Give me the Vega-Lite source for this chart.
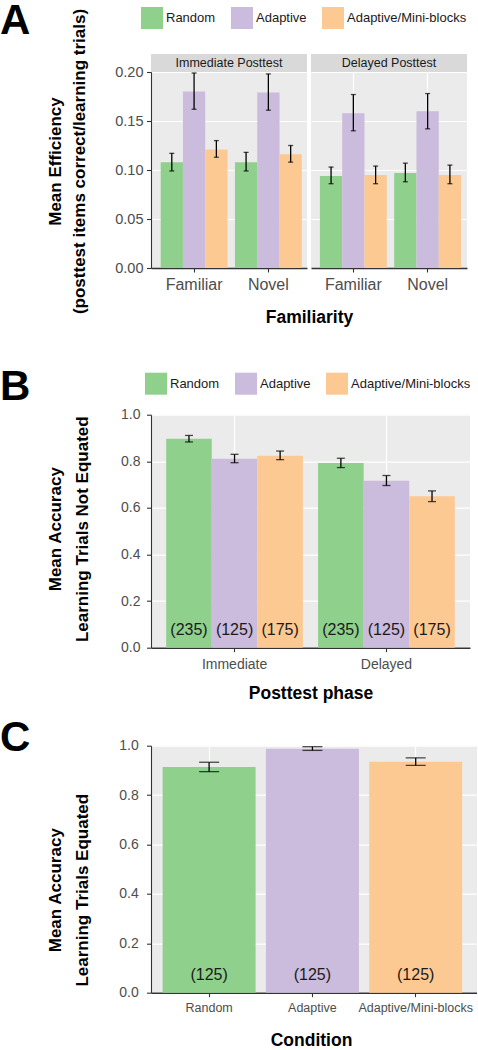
{
  "$schema": "https://vega.github.io/schema/vega-lite/v6.json",
  "padding": 0,
  "background": "white",
  "datasets": {
    "A_imm": [
      {"familiarity": "Familiar", "condition": "Random", "mean": 0.108, "lo": 0.099, "hi": 0.117},
      {"familiarity": "Familiar", "condition": "Adaptive", "mean": 0.180, "lo": 0.162, "hi": 0.199},
      {"familiarity": "Familiar", "condition": "Adaptive/Mini-blocks", "mean": 0.121, "lo": 0.113, "hi": 0.130},
      {"familiarity": "Novel", "condition": "Random", "mean": 0.108, "lo": 0.099, "hi": 0.118},
      {"familiarity": "Novel", "condition": "Adaptive", "mean": 0.179, "lo": 0.161, "hi": 0.198},
      {"familiarity": "Novel", "condition": "Adaptive/Mini-blocks", "mean": 0.116, "lo": 0.108, "hi": 0.125}
    ],
    "A_del": [
      {"familiarity": "Familiar", "condition": "Random", "mean": 0.094, "lo": 0.086, "hi": 0.103},
      {"familiarity": "Familiar", "condition": "Adaptive", "mean": 0.158, "lo": 0.140, "hi": 0.177},
      {"familiarity": "Familiar", "condition": "Adaptive/Mini-blocks", "mean": 0.095, "lo": 0.086, "hi": 0.104},
      {"familiarity": "Novel", "condition": "Random", "mean": 0.097, "lo": 0.088, "hi": 0.107},
      {"familiarity": "Novel", "condition": "Adaptive", "mean": 0.160, "lo": 0.142, "hi": 0.178},
      {"familiarity": "Novel", "condition": "Adaptive/Mini-blocks", "mean": 0.095, "lo": 0.086, "hi": 0.105}
    ],
    "B": [
      {"phase": "Immediate", "condition": "Random", "mean": 0.897, "lo": 0.883, "hi": 0.911, "n": "(235)"},
      {"phase": "Immediate", "condition": "Adaptive", "mean": 0.811, "lo": 0.794, "hi": 0.830, "n": "(125)"},
      {"phase": "Immediate", "condition": "Adaptive/Mini-blocks", "mean": 0.824, "lo": 0.807, "hi": 0.844, "n": "(175)"},
      {"phase": "Delayed", "condition": "Random", "mean": 0.793, "lo": 0.773, "hi": 0.813, "n": "(235)"},
      {"phase": "Delayed", "condition": "Adaptive", "mean": 0.717, "lo": 0.696, "hi": 0.739, "n": "(125)"},
      {"phase": "Delayed", "condition": "Adaptive/Mini-blocks", "mean": 0.650, "lo": 0.627, "hi": 0.673, "n": "(175)"}
    ],
    "C": [
      {"condition": "Random", "mean": 0.914, "lo": 0.895, "hi": 0.933, "n": "(125)"},
      {"condition": "Adaptive", "mean": 0.988, "lo": 0.981, "hi": 0.996, "n": "(125)"},
      {"condition": "Adaptive/Mini-blocks", "mean": 0.935, "lo": 0.920, "hi": 0.951, "n": "(125)"}
    ]
  },
  "config": {
    "font": "Liberation Sans",
    "view": {"fill": "#EBEBEB", "stroke": null},
    "axis": {
      "labelColor": "#4D4D4D",
      "titleColor": "#000000",
      "domainColor": "#333333",
      "tickColor": "#333333",
      "gridColor": "#FFFFFF",
      "labelFont": "Liberation Sans",
      "titleFont": "Liberation Sans"
    },
    "legend": {"labelFont": "Liberation Sans"},
    "title": {"font": "Liberation Sans"}
  },
  "resolve": {"scale": {"color": "independent", "xOffset": "independent", "x": "independent", "y": "independent"}},
  "columns": 1,
  "spacing": {"row": 14.7, "column": 0},
  "concat": [
    {
      "resolve": {"scale": {"color": "independent", "xOffset": "independent", "x": "independent", "y": "independent"}},
      "columns": 1,
      "spacing": {"row": 38.7, "column": 0},
      "concat": [
        {
          "title": {"text": "A", "anchor": "start", "frame": "group", "fontSize": 42, "fontWeight": "bold", "color": "#000000", "offset": 0, "dx": -151, "dy": 37, "baseline": "top"},
          "bounds": "flush",
          "spacing": 4,
          "resolve": {"scale": {"xOffset": "independent"}},
          "hconcat": [
            {
              "width": 156,
              "height": 196,
              "layer": [
                {
                  "data": {"name": "A_imm"},
                  "mark": {"type": "bar"},
                  "encoding": {
                    "x": {"field": "familiarity", "type": "nominal", "sort": ["Familiar", "Novel"], "scale": {"paddingInner": 0.1, "paddingOuter": 0.1, "align": 0.65},
                      "axis": {"title": "Familiarity", "titleFontSize": 17.5, "titleFontWeight": "bold", "titleX": 158, "titleY": 40.7, "titleBaseline": "top", "titleAlign": "center", "labelFontSize": 16, "labelPadding": 4.5, "labelAngle": 0, "tickSize": 4, "tickWidth": 1.1, "domainWidth": 1.6, "grid": true, "gridWidth": 1.2}},
                    "xOffset": {"field": "condition", "type": "nominal", "sort": ["Random", "Adaptive", "Adaptive/Mini-blocks"], "scale": {"paddingInner": 0, "paddingOuter": 0}},
                    "y": {"field": "mean", "type": "quantitative", "scale": {"domain": [0, 0.2], "nice": false},
                      "axis": {
                        "values": [0, 0.025, 0.05, 0.075, 0.1, 0.125, 0.15, 0.175, 0.2],
                        "labelExpr": "abs(datum.value*20 - round(datum.value*20)) < 0.01 ? format(datum.value, '.2f') : ''",
                        "labelFontSize": 14.5, "labelPadding": 3.5, "tickSize": 4.5, "tickWidth": 1.1,
                        "tickColor": {"condition": {"test": "abs(datum.value*20 - round(datum.value*20)) > 0.01", "value": "rgba(0,0,0,0)"}, "value": "#333333"},
                        "gridWidth": {"condition": {"test": "abs(datum.value*20 - round(datum.value*20)) > 0.01", "value": 0.6}, "value": 1.2},
                        "domainWidth": 1.1,
                        "title": ["Mean Efficiency", "(posttest  items correct/learning trials)"],
                        "titleFontSize": 17, "titleFontWeight": "bold", "titleX": -96, "titleY": 89, "titleBaseline": "middle", "titleAlign": "center", "titleLineHeight": 24
                      }},
                    "color": {"field": "condition", "type": "nominal", "scale": {"domain": ["Random", "Adaptive", "Adaptive/Mini-blocks"], "range": ["#8FD08D", "#CBBBDC", "#FDC993"]},
                      "legend": {"title": null, "orient": "none", "legendX": -10, "legendY": -65, "direction": "horizontal", "symbolType": "square", "symbolSize": 484, "symbolStrokeWidth": 0, "labelFontSize": 13, "labelColor": "#1A1A1A", "labelOffset": 3, "columnPadding": 15}}
                  }
                },
                {
                  "data": {"name": "A_imm"},
                  "mark": {"type": "rule", "color": "#000000", "strokeWidth": 1.3},
                  "encoding": {
                    "x": {"field": "familiarity", "type": "nominal", "sort": ["Familiar", "Novel"]},
                    "xOffset": {"field": "condition", "type": "nominal", "sort": ["Random", "Adaptive", "Adaptive/Mini-blocks"]},
                    "y": {"field": "lo", "type": "quantitative"},
                    "y2": {"field": "hi"}
                  }
                },
                {
                  "data": {"name": "A_imm"},
                  "mark": {"type": "tick", "color": "#000000", "size": 5, "thickness": 1.3},
                  "encoding": {
                    "x": {"field": "familiarity", "type": "nominal", "sort": ["Familiar", "Novel"]},
                    "xOffset": {"field": "condition", "type": "nominal", "sort": ["Random", "Adaptive", "Adaptive/Mini-blocks"]},
                    "y": {"field": "lo", "type": "quantitative"}
                  }
                },
                {
                  "data": {"name": "A_imm"},
                  "mark": {"type": "tick", "color": "#000000", "size": 5, "thickness": 1.3},
                  "encoding": {
                    "x": {"field": "familiarity", "type": "nominal", "sort": ["Familiar", "Novel"]},
                    "xOffset": {"field": "condition", "type": "nominal", "sort": ["Random", "Adaptive", "Adaptive/Mini-blocks"]},
                    "y": {"field": "hi", "type": "quantitative"}
                  }
                },
                {
                  "data": {"values": [{"strip": "Immediate Posttest"}]},
                  "mark": {"type": "rect", "color": "#D9D9D9"},
                  "encoding": {
                    "y": {"datum": 0.2, "type": "quantitative"},
                    "y2": {"datum": 0.2184}
                  }
                },
                {
                  "data": {"values": [{"strip": "Immediate Posttest"}]},
                  "mark": {"type": "text", "color": "#1A1A1A", "fontSize": 12.5, "baseline": "middle"},
                  "encoding": {
                    "y": {"datum": 0.2092, "type": "quantitative"},
                    "text": {"field": "strip"}
                  }
                }
              ]
            },
            {
              "width": 156,
              "height": 196,
              "layer": [
                {
                  "data": {"name": "A_del"},
                  "mark": {"type": "bar"},
                  "encoding": {
                    "x": {"field": "familiarity", "type": "nominal", "sort": ["Familiar", "Novel"], "scale": {"paddingInner": 0.1, "paddingOuter": 0.1, "align": 0.6},
                      "axis": {"title": null, "labelFontSize": 16, "labelPadding": 4.5, "labelAngle": 0, "tickSize": 4, "tickWidth": 1.1, "domainWidth": 1.6, "grid": true, "gridWidth": 1.2}},
                    "xOffset": {"field": "condition", "type": "nominal", "sort": ["Random", "Adaptive", "Adaptive/Mini-blocks"], "scale": {"paddingInner": 0, "paddingOuter": 0}},
                    "y": {"field": "mean", "type": "quantitative", "scale": {"domain": [0, 0.2], "nice": false},
                      "axis": {
                        "values": [0, 0.025, 0.05, 0.075, 0.1, 0.125, 0.15, 0.175, 0.2],
                        "labels": false, "ticks": false, "domain": false, "title": null,
                        "gridWidth": {"condition": {"test": "abs(datum.value*20 - round(datum.value*20)) > 0.01", "value": 0.6}, "value": 1.2}
                      }},
                    "color": {"field": "condition", "type": "nominal", "scale": {"domain": ["Random", "Adaptive", "Adaptive/Mini-blocks"], "range": ["#8FD08D", "#CBBBDC", "#FDC993"]},
                      "legend": {"title": null, "orient": "none", "legendX": -10, "legendY": -65, "direction": "horizontal", "symbolType": "square", "symbolSize": 484, "symbolStrokeWidth": 0, "labelFontSize": 13, "labelColor": "#1A1A1A", "labelOffset": 3, "columnPadding": 15}}
                  }
                },
                {
                  "data": {"name": "A_del"},
                  "mark": {"type": "rule", "color": "#000000", "strokeWidth": 1.3},
                  "encoding": {
                    "x": {"field": "familiarity", "type": "nominal", "sort": ["Familiar", "Novel"]},
                    "xOffset": {"field": "condition", "type": "nominal", "sort": ["Random", "Adaptive", "Adaptive/Mini-blocks"]},
                    "y": {"field": "lo", "type": "quantitative"},
                    "y2": {"field": "hi"}
                  }
                },
                {
                  "data": {"name": "A_del"},
                  "mark": {"type": "tick", "color": "#000000", "size": 5, "thickness": 1.3},
                  "encoding": {
                    "x": {"field": "familiarity", "type": "nominal", "sort": ["Familiar", "Novel"]},
                    "xOffset": {"field": "condition", "type": "nominal", "sort": ["Random", "Adaptive", "Adaptive/Mini-blocks"]},
                    "y": {"field": "lo", "type": "quantitative"}
                  }
                },
                {
                  "data": {"name": "A_del"},
                  "mark": {"type": "tick", "color": "#000000", "size": 5, "thickness": 1.3},
                  "encoding": {
                    "x": {"field": "familiarity", "type": "nominal", "sort": ["Familiar", "Novel"]},
                    "xOffset": {"field": "condition", "type": "nominal", "sort": ["Random", "Adaptive", "Adaptive/Mini-blocks"]},
                    "y": {"field": "hi", "type": "quantitative"}
                  }
                },
                {
                  "data": {"values": [{"strip": "Delayed Posttest"}]},
                  "mark": {"type": "rect", "color": "#D9D9D9"},
                  "encoding": {
                    "y": {"datum": 0.2, "type": "quantitative"},
                    "y2": {"datum": 0.2184}
                  }
                },
                {
                  "data": {"values": [{"strip": "Delayed Posttest"}]},
                  "mark": {"type": "text", "color": "#1A1A1A", "fontSize": 12.5, "baseline": "middle"},
                  "encoding": {
                    "y": {"datum": 0.2092, "type": "quantitative"},
                    "text": {"field": "strip"}
                  }
                }
              ]
            }
          ]
        },
        {
          "title": {"text": "B", "anchor": "start", "frame": "group", "fontSize": 42, "fontWeight": "bold", "color": "#000000", "offset": 0, "dx": -151, "dy": 69, "baseline": "alphabetic"},
          "width": 319,
          "height": 233,
          "data": {"name": "B"},
          "encoding": {
            "x": {"field": "phase", "type": "nominal", "sort": ["Immediate", "Delayed"], "scale": {"paddingInner": 0.1, "paddingOuter": 0.1},
              "axis": {"title": "Posttest phase", "titleFontSize": 17.5, "titleFontWeight": "bold", "titleX": 159.5, "titleY": 36.7, "titleBaseline": "top", "titleAlign": "center", "labelFontSize": 14, "labelPadding": 6, "labelAngle": 0, "tickSize": 4, "tickWidth": 1.1, "domainWidth": 1.6, "grid": true, "gridWidth": 1.2}},
            "xOffset": {"field": "condition", "type": "nominal", "sort": ["Random", "Adaptive", "Adaptive/Mini-blocks"], "scale": {"paddingInner": 0, "paddingOuter": 0}}
          },
          "layer": [
            {
              "mark": {"type": "bar"},
              "encoding": {
                "y": {"field": "mean", "type": "quantitative", "scale": {"domain": [0, 1], "nice": false},
                  "axis": {
                    "values": [0, 0.1, 0.2, 0.3, 0.4, 0.5, 0.6, 0.7, 0.8, 0.9, 1],
                    "labelExpr": "abs(datum.value*5 - round(datum.value*5)) < 0.01 ? format(datum.value, '.1f') : ''",
                    "labelFontSize": 14, "labelPadding": 6.5, "tickSize": 4.5, "tickWidth": 1.1,
                    "tickColor": {"condition": {"test": "abs(datum.value*5 - round(datum.value*5)) > 0.01", "value": "rgba(0,0,0,0)"}, "value": "#333333"},
                    "gridWidth": {"condition": {"test": "abs(datum.value*5 - round(datum.value*5)) > 0.01", "value": 0.6}, "value": 1.2},
                    "domainWidth": 1.1,
                    "title": ["Mean Accuracy", "Learning Trials Not Equated"],
                    "titleFontSize": 17, "titleFontWeight": "bold", "titleX": -96, "titleY": 114, "titleBaseline": "middle", "titleAlign": "center", "titleLineHeight": 27
                  }},
                "color": {"field": "condition", "type": "nominal", "scale": {"domain": ["Random", "Adaptive", "Adaptive/Mini-blocks"], "range": ["#8FD08D", "#CBBBDC", "#FDC993"]},
                  "legend": {"title": null, "orient": "none", "legendX": -6, "legendY": -42, "direction": "horizontal", "symbolType": "square", "symbolSize": 484, "symbolStrokeWidth": 0, "labelFontSize": 13, "labelColor": "#1A1A1A", "labelOffset": 3, "columnPadding": 15}}
              }
            },
            {
              "mark": {"type": "rule", "color": "#000000", "strokeWidth": 1.3},
              "encoding": {
                "y": {"field": "lo", "type": "quantitative"},
                "y2": {"field": "hi"}
              }
            },
            {
              "mark": {"type": "tick", "color": "#000000", "size": 8, "thickness": 1.3},
              "encoding": {"y": {"field": "lo", "type": "quantitative"}}
            },
            {
              "mark": {"type": "tick", "color": "#000000", "size": 8, "thickness": 1.3},
              "encoding": {"y": {"field": "hi", "type": "quantitative"}}
            },
            {
              "mark": {"type": "text", "color": "#1A1A1A", "fontSize": 16, "baseline": "middle"},
              "encoding": {
                "y": {"datum": 0.077, "type": "quantitative"},
                "text": {"field": "n"}
              }
            }
          ]
        }
      ]
    },
    {
      "title": {"text": "C", "anchor": "start", "frame": "group", "fontSize": 42, "fontWeight": "bold", "color": "#000000", "offset": 0, "dx": -151, "dy": 54.5, "baseline": "alphabetic"},
      "width": 326,
      "height": 247,
      "data": {"name": "C"},
      "encoding": {
        "x": {"field": "condition", "type": "nominal", "sort": ["Random", "Adaptive", "Adaptive/Mini-blocks"], "scale": {"paddingInner": 0.1, "paddingOuter": 0.128, "align": 0.44},
          "axis": {"title": "Condition", "titleFontSize": 17.5, "titleFontWeight": "bold", "titleX": 160, "titleY": 39, "titleBaseline": "top", "titleAlign": "center", "labelFontSize": 12.5, "labelPadding": 5, "labelAngle": 0, "tickSize": 4, "tickWidth": 1.1, "domainWidth": 1.6, "grid": true, "gridWidth": 1.2}}
      },
      "layer": [
        {
          "mark": {"type": "bar"},
          "encoding": {
            "y": {"field": "mean", "type": "quantitative", "scale": {"domain": [0, 1], "nice": false},
              "axis": {
                "values": [0, 0.1, 0.2, 0.3, 0.4, 0.5, 0.6, 0.7, 0.8, 0.9, 1],
                "labelExpr": "abs(datum.value*5 - round(datum.value*5)) < 0.01 ? format(datum.value, '.1f') : ''",
                "labelFontSize": 14, "labelPadding": 8.2, "tickSize": 4.5, "tickWidth": 1.1,
                "tickColor": {"condition": {"test": "abs(datum.value*5 - round(datum.value*5)) > 0.01", "value": "rgba(0,0,0,0)"}, "value": "#333333"},
                "gridWidth": {"condition": {"test": "abs(datum.value*5 - round(datum.value*5)) > 0.01", "value": 0.6}, "value": 1.2},
                "domainWidth": 1.1,
                "title": ["Mean Accuracy", "Learning Trials Equated"],
                "titleFontSize": 17, "titleFontWeight": "bold", "titleX": -96, "titleY": 144, "titleBaseline": "middle", "titleAlign": "center", "titleLineHeight": 27
              }},
            "color": {"field": "condition", "type": "nominal", "scale": {"domain": ["Random", "Adaptive", "Adaptive/Mini-blocks"], "range": ["#8FD08D", "#CBBBDC", "#FDC993"]}, "legend": null}
          }
        },
        {
          "mark": {"type": "rule", "color": "#000000", "strokeWidth": 1.3},
          "encoding": {
            "y": {"field": "lo", "type": "quantitative"},
            "y2": {"field": "hi"}
          }
        },
        {
          "mark": {"type": "tick", "color": "#000000", "size": 20, "thickness": 1.3},
          "encoding": {"y": {"field": "lo", "type": "quantitative"}}
        },
        {
          "mark": {"type": "tick", "color": "#000000", "size": 20, "thickness": 1.3},
          "encoding": {"y": {"field": "hi", "type": "quantitative"}}
        },
        {
          "mark": {"type": "text", "color": "#1A1A1A", "fontSize": 16, "baseline": "middle"},
          "encoding": {
            "y": {"datum": 0.071, "type": "quantitative"},
            "text": {"field": "n"}
          }
        }
      ]
    }
  ]
}
